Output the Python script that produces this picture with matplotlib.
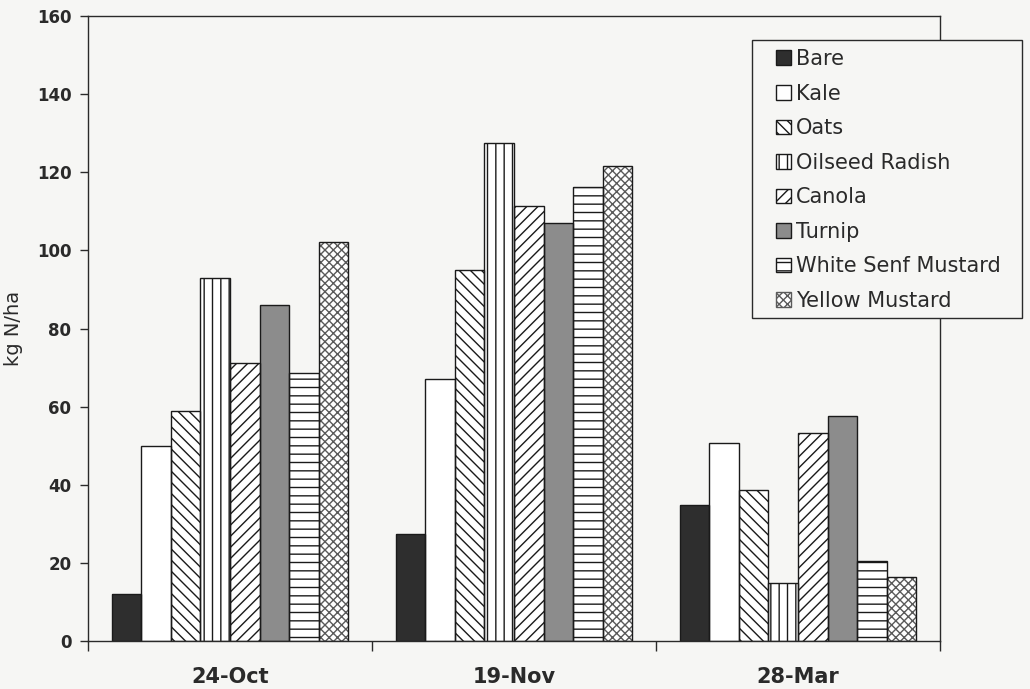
import matplotlib.pyplot as plt
import numpy as np
from matplotlib.patches import Patch, Rectangle

dates = ['24-Oct', '19-Nov', '28-Mar']
crops = ['Bare', 'Kale', 'Oats', 'Oilseed Radish', 'Canola', 'Turnip',
         'White Senf Mustard', 'Yellow Mustard']

# soil N (kg N/ha) per crop, one value per sampling date
bare = [12.1, 27.4, 34.8]
kale = [49.8, 67.2, 50.6]
oats = [59.0, 95.0, 38.6]
oilseed_radish = [92.9, 127.4, 14.8]
canola = [71.1, 111.4, 53.3]
turnip = [86.0, 107.1, 57.6]
white_senf_mustard = [68.5, 116.2, 20.6]
yellow_mustard = [102.1, 121.7, 16.5]

series = [bare, kale, oats, oilseed_radish, canola, turnip,
          white_senf_mustard, yellow_mustard]

# hatch lines take the edge colour, so the outline is redrawn in black afterwards
styles = {
    'Bare': dict(facecolor='#2e2e2e', hatch=None, hatchcolor='#1a1a1a'),
    'Kale': dict(facecolor='white', hatch=None, hatchcolor='#1a1a1a'),
    'Oats': dict(facecolor='white', hatch='\\\\\\', hatchcolor='#1a1a1a'),
    'Oilseed Radish': dict(facecolor='white', hatch='||', hatchcolor='#1a1a1a'),
    'Canola': dict(facecolor='white', hatch='///', hatchcolor='#1a1a1a'),
    'Turnip': dict(facecolor='#8c8c8c', hatch=None, hatchcolor='#1a1a1a'),
    'White Senf Mustard': dict(facecolor='white', hatch='--', hatchcolor='#1a1a1a'),
    'Yellow Mustard': dict(facecolor='white', hatch='xxxx', hatchcolor='#5a5a5a'),
}

plt.rcParams['font.family'] = 'DejaVu Sans'
plt.rcParams['hatch.linewidth'] = 1.0

bg = '#f6f6f4'
txt = '#2a2a2a'
fig = plt.figure(figsize=(10.30, 6.89), dpi=100, facecolor=bg)
ax = fig.add_axes([88 / 1030, 48 / 689, 852 / 1030, 625 / 689])
ax.set_facecolor('none')

x = np.arange(len(dates))
bar_w = 0.104
for i, (name, vals) in enumerate(zip(crops, series)):
    offset = (i - (len(crops) - 1) / 2) * bar_w
    st = styles[name]
    ax.bar(x + offset, vals, bar_w, facecolor=st['facecolor'], hatch=st['hatch'],
           edgecolor=st['hatchcolor'], linewidth=0, zorder=2)
    ax.bar(x + offset, vals, bar_w, fill=False, edgecolor='#1a1a1a',
           linewidth=1.0, zorder=2.5)

ax.set_xlim(-0.5, 2.5)
ax.set_ylim(0, 160)
ax.set_yticks(np.arange(0, 161, 20))

# category boundaries carry the tick marks, labels sit in between
ax.set_xticks([-0.5, 0.5, 1.5, 2.5])
ax.set_xticklabels([])
ax.set_xticks(x, minor=True)
ax.set_xticklabels(dates, minor=True, fontsize=15, fontweight='bold', color=txt)
ax.tick_params(axis='x', which='minor', length=0, pad=19)
ax.tick_params(axis='x', which='major', length=7, direction='out', width=1, color=txt)
ax.tick_params(axis='y', length=6, direction='out', width=1, labelsize=12,
               labelcolor=txt, color=txt, pad=6)
for lab in ax.get_yticklabels():
    lab.set_fontweight('bold')

for s in ax.spines.values():
    s.set_color(txt)
    s.set_linewidth(1.0)

ax.set_ylabel('kg N/ha', fontsize=14, labelpad=10, color=txt)

# legend box sticks out past the right edge of the plot
ax.add_patch(Rectangle((752 / 1030, 1 - 318 / 689), 270 / 1030, 278 / 689,
                       transform=fig.transFigure, clip_on=False, facecolor=bg,
                       edgecolor=txt, linewidth=1.0, zorder=4))
handles = [Patch(facecolor=styles[c]['facecolor'], hatch=styles[c]['hatch'],
                 edgecolor=styles[c]['hatchcolor'], linewidth=1.0, label=c) for c in crops]
leg = ax.legend(handles=handles, loc='upper left', bbox_to_anchor=(776 / 1030, 1 - 49 / 689),
                bbox_transform=fig.transFigure, borderaxespad=0, fontsize=15,
                handlelength=0.7, handleheight=0.7, handletextpad=0.25,
                labelspacing=0.7, borderpad=0, frameon=False)
leg.set_zorder(5)
for t in leg.get_texts():
    t.set_color(txt)

fig.savefig('out.png', dpi=100, facecolor=bg)
